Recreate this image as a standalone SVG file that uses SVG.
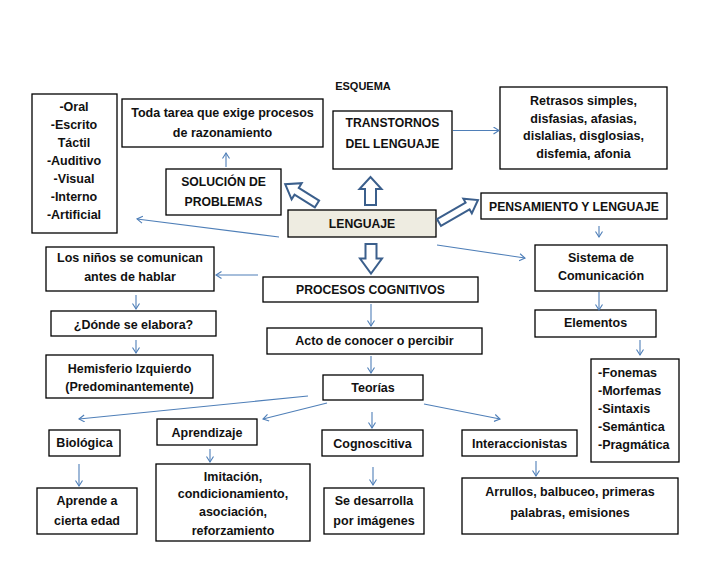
<svg xmlns="http://www.w3.org/2000/svg" width="728" height="563" viewBox="0 0 728 563">
<defs>
<style>
.b{fill:#fff;stroke:#000;stroke-width:1.3}
.t{font-family:"Liberation Sans",Arial,sans-serif;font-weight:bold;font-size:12.5px;fill:#111;text-anchor:middle}
.u{font-size:12.2px}
.l{text-anchor:start}
.c{stroke:#4f7fb8;stroke-width:1.1;fill:none;marker-end:url(#ah)}
.big{fill:#fff;stroke:#3b5f8c;stroke-width:2;stroke-linejoin:miter}
</style>
<marker id="ah" markerUnits="userSpaceOnUse" markerWidth="10" markerHeight="10" refX="6" refY="4" orient="auto">
<path d="M0.5,0.5 L6,4 L0.5,7.5" fill="none" stroke="#4f7fb8" stroke-width="1.1"/>
</marker>
</defs>
<rect width="728" height="563" fill="#fff"/>
<text class="t" x="363" y="90" style="font-size:11px">ESQUEMA</text>

<g id="oral"><rect class="b" x="32" y="94" width="85" height="139"/>
<text class="t" x="74" y="111">-Oral</text><text class="t" x="74" y="129">-Escrito</text><text class="t" x="74" y="147">Táctil</text><text class="t" x="74" y="165">-Auditivo</text><text class="t" x="74" y="183">-Visual</text><text class="t" x="74" y="201">-Interno</text><text class="t" x="74" y="219">-Artificial</text></g>

<g id="toda"><rect class="b" x="122" y="99" width="201" height="48"/>
<text class="t" x="222.5" y="117">Toda tarea que exige procesos</text><text class="t" x="222.5" y="137">de razonamiento</text></g>

<g id="solucion"><rect class="b" x="166" y="169" width="115" height="46"/>
<text class="t u" x="223.5" y="185.5">SOLUCIÓN DE</text><text class="t u" x="223.5" y="205.5">PROBLEMAS</text></g>

<g id="transtornos"><rect class="b" x="333" y="111" width="119" height="58"/>
<text class="t u" x="392.5" y="127">TRANSTORNOS</text><text class="t u" x="392.5" y="147.5">DEL LENGUAJE</text></g>

<g id="retrasos"><rect class="b" x="500" y="87" width="167" height="82"/>
<text class="t" x="583.5" y="105">Retrasos simples,</text><text class="t" x="583.5" y="123">disfasias, afasias,</text><text class="t" x="583.5" y="140">dislalias, disglosias,</text><text class="t" x="583.5" y="158">disfemia, afonia</text></g>

<g id="pensamiento"><rect class="b" x="481" y="193" width="186" height="26"/>
<text class="t u" x="574" y="210.5">PENSAMIENTO Y LENGUAJE</text></g>

<g id="lenguaje"><rect x="288" y="210" width="148" height="27" fill="#eeece1" stroke="#000" stroke-width="1.3"/>
<text class="t u" x="362" y="227.5">LENGUAJE</text></g>

<g id="ninos"><rect class="b" x="46" y="247" width="168" height="44"/>
<text class="t" x="130" y="262">Los niños se comunican</text><text class="t" x="130" y="281">antes de hablar</text></g>

<g id="procesos"><rect class="b" x="263" y="277" width="215" height="25"/>
<text class="t u" x="370.5" y="293.5">PROCESOS COGNITIVOS</text></g>

<g id="sistema"><rect class="b" x="535" y="245" width="132" height="46"/>
<text class="t" x="601" y="262">Sistema de</text><text class="t" x="601" y="280">Comunicación</text></g>

<g id="donde"><rect class="b" x="51" y="311" width="165" height="25"/>
<text class="t" x="133.5" y="328.5">¿Dónde se elabora?</text></g>

<g id="acto"><rect class="b" x="267" y="328" width="215" height="26"/>
<text class="t" x="374.5" y="345">Acto de conocer o percibir</text></g>

<g id="elementos"><rect class="b" x="535" y="310" width="121" height="27"/>
<text class="t" x="595.5" y="327">Elementos</text></g>

<g id="hemisferio"><rect class="b" x="46" y="355" width="167" height="43"/>
<text class="t" x="129.5" y="372.5">Hemisferio Izquierdo</text><text class="t" x="129.5" y="391">(Predominantemente)</text></g>

<g id="teorias"><rect class="b" x="323" y="375" width="100" height="25"/>
<text class="t" x="373" y="391.5">Teorías</text></g>

<g id="fonemas"><rect class="b" x="591" y="359" width="88" height="103"/>
<text class="t l" x="598" y="377">-Fonemas</text><text class="t l" x="598" y="395">-Morfemas</text><text class="t l" x="598" y="413">-Sintaxis</text><text class="t l" x="598" y="431">-Semántica</text><text class="t l" x="598" y="449">-Pragmática</text></g>

<g id="aprendizaje"><rect class="b" x="157" y="419" width="100" height="26"/>
<text class="t" x="207" y="437">Aprendizaje</text></g>

<g id="biologica"><rect class="b" x="49" y="430" width="71" height="26"/>
<text class="t" x="84.5" y="447">Biológica</text></g>

<g id="cognoscitiva"><rect class="b" x="322" y="430" width="101" height="26"/>
<text class="t" x="372.5" y="447.5">Cognoscitiva</text></g>

<g id="interaccionistas"><rect class="b" x="462" y="430" width="115" height="26"/>
<text class="t" x="519.5" y="447.5">Interaccionistas</text></g>

<g id="imitacion"><rect class="b" x="156" y="464" width="154" height="77"/>
<text class="t" x="233" y="481">Imitación,</text><text class="t" x="233" y="498">condicionamiento,</text><text class="t" x="233" y="516">asociación,</text><text class="t" x="233" y="535">reforzamiento</text></g>

<g id="aprende"><rect class="b" x="37" y="488" width="100" height="46"/>
<text class="t" x="87" y="505">Aprende a</text><text class="t" x="87" y="525">cierta edad</text></g>

<g id="desarrolla"><rect class="b" x="324" y="488" width="100" height="46"/>
<text class="t" x="374" y="504.5">Se desarrolla</text><text class="t" x="374" y="525">por imágenes</text></g>

<g id="arrullos"><rect class="b" x="462" y="478" width="216" height="56"/>
<text class="t" x="570" y="496">Arrullos, balbuceo, primeras</text><text class="t" x="570" y="516.5">palabras, emisiones</text></g>

<g id="connectors">
<line class="c" x1="226" y1="167" x2="226" y2="153"/>
<line class="c" x1="453" y1="130.5" x2="499" y2="130.5"/>
<line class="c" x1="599" y1="226" x2="599" y2="237"/>
<line class="c" x1="279" y1="237" x2="137" y2="219"/>
<line class="c" x1="437" y1="245" x2="525" y2="258"/>
<line class="c" x1="258" y1="275" x2="216" y2="275"/>
<line class="c" x1="136" y1="295" x2="136" y2="309"/>
<line class="c" x1="136" y1="340" x2="136" y2="353"/>
<line class="c" x1="371" y1="304" x2="371" y2="326"/>
<line class="c" x1="371" y1="356" x2="371" y2="373"/>
<line class="c" x1="599" y1="292" x2="599" y2="310"/>
<line class="c" x1="640" y1="340" x2="640" y2="355"/>
<line class="c" x1="308" y1="396" x2="79" y2="419"/>
<line class="c" x1="327" y1="403" x2="263" y2="419"/>
<line class="c" x1="372" y1="412" x2="372" y2="428"/>
<line class="c" x1="424" y1="404" x2="500" y2="419"/>
<line class="c" x1="79" y1="464" x2="79" y2="486"/>
<line class="c" x1="210" y1="449" x2="210" y2="462"/>
<line class="c" x1="373" y1="467" x2="373" y2="485"/>
<line class="c" x1="536" y1="461" x2="536" y2="476"/>
<path class="big" transform="translate(370.5,205) rotate(-90)" d="M0,-5.5 L16,-5.5 L16,-11 L28,0 L16,11 L16,5.5 L0,5.5 Z"/>
<path class="big" transform="translate(371,244) rotate(90)" d="M0,-5.5 L14.5,-5.5 L14.5,-11 L29.5,0 L14.5,11 L14.5,5.5 L0,5.5 Z"/>
<path class="big" transform="translate(317,204) rotate(-148)" d="M0,-4 L24,-4 L24,-9.5 L37.5,0 L24,9.5 L24,4 L0,4 Z"/>
<path class="big" transform="translate(439,222.5) rotate(-30)" d="M0,-4 L33,-4 L33,-8.5 L45,0 L33,8.5 L33,4 L0,4 Z"/>
</g>
</svg>
